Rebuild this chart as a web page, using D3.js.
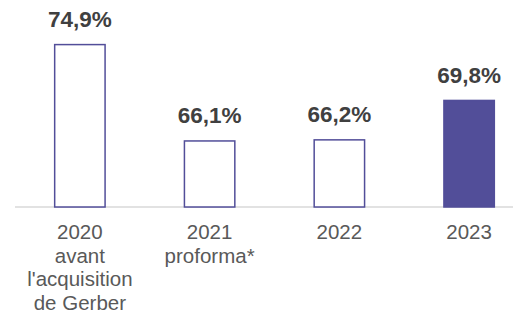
<!DOCTYPE html>
<html>
<head>
<meta charset="utf-8">
<script src="https://cdn.jsdelivr.net/npm/d3@7"></script>
<style>
  body { margin: 0; background: #fff; }
  svg { display: block; font-family: "Liberation Sans", Arial, sans-serif; }
</style>
</head>
<body>
<svg id="chart" width="513" height="316"></svg>
<script>

var categories = [
    ['2020', 'avant', "l'acquisition", 'de Gerber'],
    ['2021', 'proforma*'],
    ['2022'],
    ['2023']
];

var values = [74.9, 66.1, 66.2, 69.8];

var highlight = [false, false, false, true];

var purple = '#524e99';

var svg = d3.select('#chart');

var x = d3.scaleBand()
    .domain(d3.range(values.length))
    .range([15, 534])
    .paddingInner(0.6)
    .paddingOuter(0.3);

var y = d3.scaleLinear()
    .domain([60, 80])
    .range([207, -12]);

// baseline
svg.append('line')
    .attr('x1', 15)
    .attr('x2', 513)
    .attr('y1', y(60))
    .attr('y2', y(60))
    .attr('stroke', '#d9d9d9')
    .attr('stroke-width', 1.5);

svg.selectAll('.bar')
    .data(values)
    .enter()
    .append('rect')
    .attr('class', 'bar')
    .attr('x', function(d, i) { return x(i) + 0.75; })
    .attr('width', x.bandwidth() - 1.5)
    .attr('y', function(d) { return y(d) + 0.75; })
    .attr('height', function(d) { return y(60) - y(d) - 0.75; })
    .attr('fill', function(d, i) { return highlight[i] ? purple : '#fff'; })
    .attr('stroke', purple)
    .attr('stroke-width', 1.5);

svg.selectAll('.val')
    .data(values)
    .enter()
    .append('text')
    .attr('class', 'val')
    .attr('x', function(d, i) { return x(i) + x.bandwidth() / 2; })
    .attr('y', function(d) { return y(d) - 17; })
    .attr('text-anchor', 'middle')
    .attr('font-size', 22.5)
    .attr('font-weight', 'bold')
    .attr('fill', '#404040')
    .text(function(d) { return d3.format('.1f')(d).replace('.', ',') + '%'; });

var labels = svg.selectAll('.cat')
    .data(categories)
    .enter()
    .append('text')
    .attr('class', 'cat')
    .attr('text-anchor', 'middle')
    .attr('font-size', 20.5)
    .attr('fill', '#595959');

labels.selectAll('tspan')
    .data(function(d, i) { return d.map(function(t) { return { t: t, i: i }; }); })
    .enter()
    .append('tspan')
    .attr('x', function(d) { return x(d.i) + x.bandwidth() / 2; })
    .attr('y', function(d, j) { return 239 + j * 23.5; })
    .text(function(d) { return d.t; });

</script>
</body>
</html>
